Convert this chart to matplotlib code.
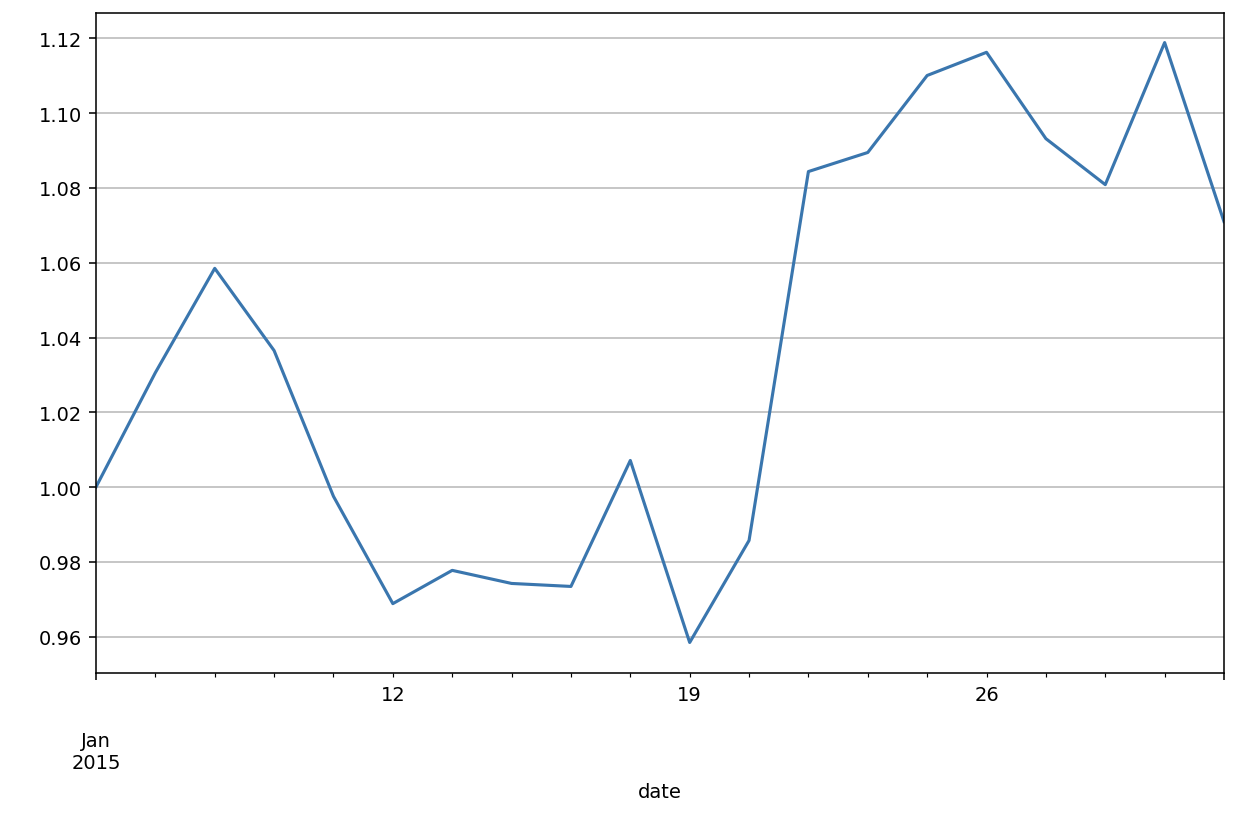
import matplotlib
matplotlib.use("Agg")
import matplotlib.pyplot as plt
import pandas as pd

dates = pd.bdate_range("2015-01-05", "2015-01-30")
values = [1.000, 1.0306, 1.0585, 1.0365, 0.9975,
          0.9688, 0.9777, 0.9742, 0.9734, 1.0071,
          0.9584, 0.9857, 1.0844, 1.0895, 1.1101,
          1.1163, 1.0932, 1.0809, 1.1189, 1.0710]

s = pd.Series(values, index=dates, name="value")
s.index.name = "date"

dpi = 140
fig = plt.figure(figsize=(1246 / dpi, 822 / dpi), dpi=dpi)
ax = fig.add_axes([96 / 1246, 1 - 673.5 / 822, (1224 - 96) / 1246, (673.5 - 13.6) / 822])
s.plot(ax=ax, color="#3a76ae", linewidth=1.6)
ax.yaxis.grid(True, color="#c0c0c0", linewidth=0.9)
ax.tick_params(axis="x", which="both", pad=4.2)
ax.xaxis.labelpad = 5
ax.set_axisbelow(True)
fig.savefig("out.png", dpi=dpi)
